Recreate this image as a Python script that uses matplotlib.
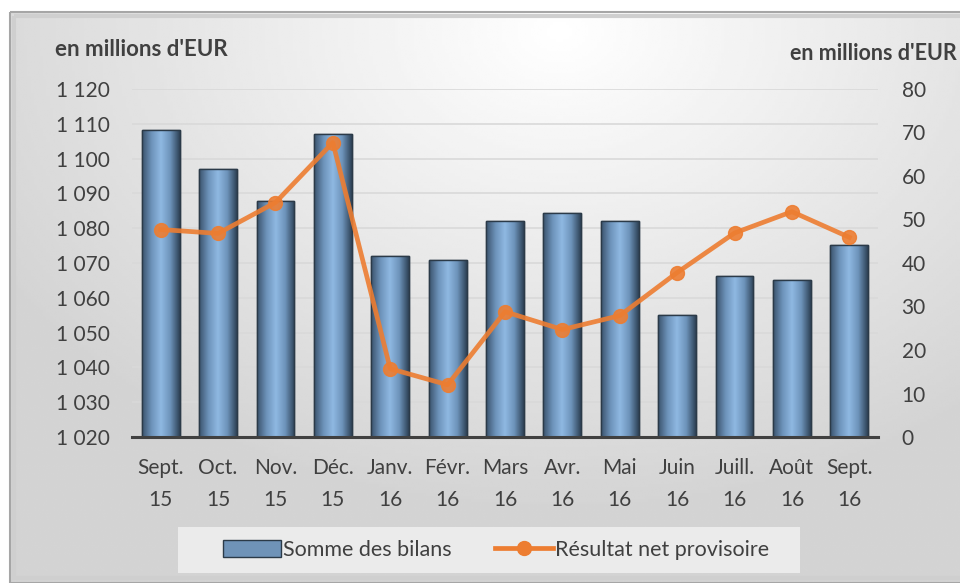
import numpy as np
import matplotlib.pyplot as plt
from matplotlib.patches import Rectangle, Patch
from matplotlib.lines import Line2D
from matplotlib.colors import LinearSegmentedColormap

months = ['Sept.\n15', 'Oct.\n15', 'Nov.\n15', 'Déc.\n15', 'Janv.\n16', 'Févr.\n16',
          'Mars\n16', 'Avr.\n16', 'Mai\n16', 'Juin\n16', 'Juill.\n16', 'Août\n16', 'Sept.\n16']
bilans = [1108.2, 1097.1, 1087.9, 1107.1, 1072.1, 1071.0,
          1082.2, 1084.4, 1082.2, 1055.1, 1066.2, 1065.1, 1075.2]
resultat = [47.7, 46.8, 53.9, 67.7, 15.7, 12.0,
            28.8, 24.7, 27.9, 37.8, 46.9, 51.8, 45.9]

left_ticks = np.arange(1020, 1121, 10)
right_ticks = np.arange(0, 81, 10)

plt.rcParams['font.family'] = ['Lato', 'DejaVu Sans']
txt = '#404040'

fig = plt.figure(figsize=(9.6, 5.83), dpi=100)

# background panel with soft grey gradient
bg = fig.add_axes([0, 0, 1, 1], zorder=-5)
bg.set_xlim(0, 960)
bg.set_ylim(583, 0)
bg.axis('off')
gx, gy = np.meshgrid(np.linspace(10, 960, 300), np.linspace(12, 583, 200))
d = np.sqrt(((gx - 560) / 650) ** 2 + ((gy - 30) / 480) ** 2)
shade = np.clip(1.0 - 0.17 * d, 0.83, 1.0)
bg.imshow(shade, extent=[10, 960, 583, 12], cmap='gray', vmin=0, vmax=1,
          aspect='auto', interpolation='bilinear')
bg.add_patch(Rectangle((10, 12), 960, 571, fill=False, edgecolor='#a6a6a6', lw=1.5))
bg.add_patch(Rectangle((14, 16), 960, 562, fill=False, edgecolor='#cfcfcf', lw=3))

ax = fig.add_axes([132 / 960, 1 - 437 / 583, 746 / 960, 348 / 583])
ax.patch.set_alpha(0)
x = np.arange(len(months))

bar_cmap = LinearSegmentedColormap.from_list(
    'bevel', ['#3b536d', '#6d93ba', '#8fb9e2', '#6d93ba', '#2e4257'])
grad = np.linspace(0, 1, 100).reshape(1, -1)
bars = ax.bar(x, np.array(bilans) - 1020, bottom=1020, width=0.66,
              color='#6f93b8', edgecolor='#2b3a48', lw=1.0, zorder=3)
for b in bars:
    x0, y0 = b.get_x(), b.get_y()
    im = ax.imshow(grad, extent=[x0, x0 + b.get_width(), y0, y0 + b.get_height()],
                   cmap=bar_cmap, aspect='auto', zorder=3.5, interpolation='bilinear')
    im.set_clip_path(b)
    ax.add_patch(Rectangle((x0, y0), b.get_width(), b.get_height(), fill=False,
                           edgecolor='#2b3a48', lw=1.0, zorder=4))

ax.set_xlim(-0.5, len(months) - 0.5)
ax.set_ylim(1020, 1120)
ax.set_yticks(left_ticks)
ax.set_yticklabels([f'{v // 1000} {v % 1000:03d}' for v in left_ticks])
ax.set_xticks(x)
ax.set_xticklabels(months, linespacing=1.75)
ax.grid(axis='y', color='#d9d9d9', lw=1.2, zorder=0)
for s in ['top', 'right', 'left']:
    ax.spines[s].set_visible(False)
ax.spines['bottom'].set_color('#404040')
ax.spines['bottom'].set_linewidth(2.2)
ax.spines['bottom'].set_zorder(6)
ax.tick_params(axis='both', length=0, labelsize=15, colors=txt)
ax.tick_params(axis='y', pad=16)
ax.tick_params(axis='x', pad=15)

ax2 = ax.twinx()
ax2.set_ylim(0, 80)
ax2.set_yticks(right_ticks)
ax2.plot(x, resultat, color='#ed7d31', lw=3.4, marker='o', ms=10, alpha=0.9,
         solid_joinstyle='round', zorder=5)
for s in ['top', 'right', 'left', 'bottom']:
    ax2.spines[s].set_visible(False)
ax2.tick_params(axis='y', length=0, labelsize=15, colors=txt, pad=17)

fig.text(55 / 960, 1 - 50 / 583, "en millions d'EUR", fontsize=16, fontweight='bold',
         color=txt, va='center', ha='left')
fig.text(957 / 960, 1 - 53 / 583, "en millions d'EUR", fontsize=15.5, fontweight='bold',
         color=txt, va='center', ha='right')

# legend box
bg.add_patch(Rectangle((178, 527), 622, 46, facecolor='#ebebeb', edgecolor='none'))
handles = [Patch(facecolor='#6f93b8', edgecolor='#2b3a48', label='Somme des bilans'),
           Line2D([], [], color='#ed7d31', lw=3.4, marker='o', ms=10,
                  label='Résultat net provisoire')]
fig.legend(handles=handles, loc='center', bbox_to_anchor=(496 / 960, 1 - 550 / 583),
           ncol=2, frameon=False, fontsize=15.5, handlelength=2.7, handletextpad=0.1,
           columnspacing=2.0, labelcolor=txt, handleheight=0.8)

fig.savefig('out.png', dpi=100)
